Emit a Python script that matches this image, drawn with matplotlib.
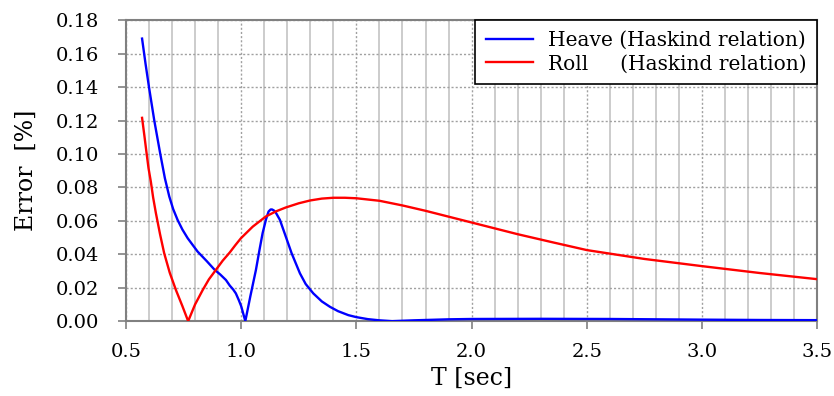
import numpy as np
import matplotlib
matplotlib.use("Agg")
import matplotlib.pyplot as plt
from matplotlib.ticker import MultipleLocator

# Heave error (Haskind relation)
heave_T = [0.57, 0.585, 0.60, 0.623, 0.649, 0.669, 0.688, 0.705, 0.724, 0.745, 0.768, 0.79, 0.811,
           0.85, 0.883, 0.91, 0.934, 0.951, 0.965, 0.977, 0.99, 1.00, 1.018,
           1.04, 1.064, 1.08, 1.093, 1.108, 1.119, 1.128, 1.134, 1.142, 1.15, 1.168, 1.19, 1.219,
           1.255, 1.28, 1.313, 1.35, 1.385, 1.42, 1.465, 1.50, 1.55, 1.60, 1.655,
           1.75, 1.90, 2.00, 2.30, 2.60, 2.80, 3.00, 3.25, 3.50]
heave_err = [0.169, 0.154, 0.140, 0.120, 0.100, 0.0855, 0.0746, 0.0670, 0.0606, 0.0548, 0.0496, 0.0455, 0.0416,
             0.036, 0.031, 0.0278, 0.0246, 0.0212, 0.0190, 0.0166, 0.0125, 0.009, 0.0,
             0.015, 0.0306, 0.0430, 0.0526, 0.0610, 0.0656, 0.0668, 0.0668, 0.0662, 0.065, 0.0606, 0.052, 0.0406,
             0.0286, 0.0222, 0.0166, 0.0118, 0.0086, 0.0060, 0.0036, 0.0024, 0.0012, 0.0005, 0.0,
             0.0005, 0.0011, 0.0013, 0.0014, 0.0013, 0.0011, 0.0009, 0.0007, 0.0006]

# Roll error (Haskind relation)
roll_T = [0.57, 0.58, 0.59, 0.598, 0.608, 0.618, 0.630, 0.648, 0.666, 0.69, 0.717, 0.745, 0.770,
          0.80, 0.833, 0.86, 0.890, 0.92, 0.95, 0.975, 0.999, 1.05, 1.107, 1.15, 1.194,
          1.25, 1.30, 1.35, 1.40, 1.45, 1.50, 1.60, 1.70, 1.80, 1.90, 2.00, 2.10, 2.20,
          2.35, 2.50, 2.75, 3.00, 3.25, 3.50]
roll_err = [0.1216, 0.111, 0.100, 0.0915, 0.0835, 0.0740, 0.0646, 0.0520, 0.0406, 0.0290, 0.0186, 0.0090, 0.0,
            0.0100, 0.0186, 0.0250, 0.0306, 0.0362, 0.0410, 0.0455, 0.0496, 0.0565, 0.0626, 0.0656, 0.0680,
            0.0705, 0.0722, 0.0733, 0.0738, 0.0738, 0.0735, 0.0720, 0.0692, 0.0660, 0.0625, 0.0590, 0.0555, 0.0520,
            0.0472, 0.0425, 0.0372, 0.0329, 0.0288, 0.0251]

plt.rcParams['font.family'] = ['DejaVu Serif']

fig = plt.figure(figsize=(8.34, 3.96), dpi=100)
ax = fig.add_axes([0.151, 0.189, 0.829, 0.760])

ax.plot(heave_T, heave_err, color='#0000ff', lw=1.7, label='Heave (Haskind relation)', zorder=3)
ax.plot(roll_T, roll_err, color='#ff0000', lw=1.7, label='Roll     (Haskind relation)', zorder=3)

ax.set_xlim(0.5, 3.5)
ax.set_ylim(0, 0.18)
ax.xaxis.set_major_locator(MultipleLocator(0.5))
ax.xaxis.set_minor_locator(MultipleLocator(0.1))
ax.yaxis.set_major_locator(MultipleLocator(0.02))
ax.xaxis.set_major_formatter(plt.FormatStrFormatter('%.1f'))
ax.yaxis.set_major_formatter(plt.FormatStrFormatter('%.2f'))

ax.grid(which='minor', axis='x', color='#c8c8c8', lw=1.3, ls='-')
ax.grid(which='major', axis='x', color='#a0a0a0', lw=1.0, ls=(0, (1.5, 1.5)))
ax.grid(which='major', axis='y', color='#a0a0a0', lw=1.0, ls=(0, (1.5, 1.5)))
ax.set_axisbelow(True)

for s in ax.spines.values():
    s.set_color('#808080')
    s.set_linewidth(1.5)

ax.tick_params(which='major', direction='out', length=6, color='#808080', width=1.2,
               labelsize=14)
ax.tick_params(axis='y', pad=13)
ax.tick_params(axis='x', pad=10)
ax.tick_params(which='minor', length=0)

ax.set_xlabel('T [sec]', fontsize=17, labelpad=4)
ax.set_ylabel('Error  [%]', fontsize=17, labelpad=13)

leg = ax.legend(loc='upper right', fontsize=14.5, fancybox=False, framealpha=1,
                edgecolor='black', borderaxespad=0, handlelength=2.3, handletextpad=0.75,
                borderpad=0.55, labelspacing=0.2)
leg.get_frame().set_linewidth(1.2)

fig.savefig('out.png', dpi=100)
